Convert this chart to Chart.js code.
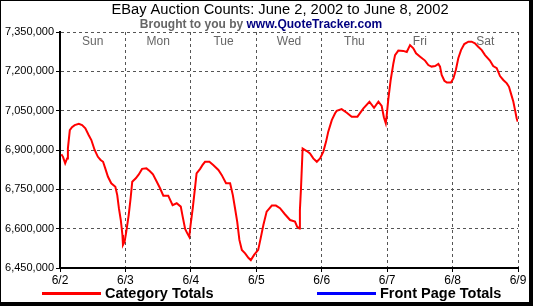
<!DOCTYPE html>
<html>
<head>
<meta charset="utf-8">
<script src="https://cdn.jsdelivr.net/npm/chart.js@4.4.1/dist/chart.umd.min.js"></script>
<style>
html, body { margin: 0; padding: 0; background: #fff; }
</style>
</head>
<body>
<canvas id="chart" width="533" height="306"></canvas>
<script>
// hours since 6/2 00:00
var hours = [
  0.5, 1.1, 1.9, 2.6, 2.9, 3.6, 4.4, 5.4, 6.9, 8.1, 9.3, 10.5, 11.5, 12.7, 13.9, 14.9,
  15.8, 16.6, 17.6, 18.8, 20.3, 21.0, 21.6, 22.3, 22.9, 23.1, 23.7, 24.3, 25.2, 25.9,
  26.5, 27.8, 28.9, 30.1, 31.7, 32.9, 34.1, 35.5, 36.7, 37.9, 39.7, 41.3, 42.8, 44.3,
  45.0, 45.9, 46.7, 47.4, 47.9, 48.7, 49.5, 50.1, 51.4, 52.3, 53.2, 54.8, 56.2, 58.1,
  59.3, 60.9, 62.4, 63.4, 64.2, 65.0, 65.8, 66.7, 67.9, 69.1, 70.0, 71.2, 72.7, 73.6,
  74.6, 75.8, 77.7, 79.2, 80.7, 82.5, 84.4, 86.2, 87.0, 87.8, 88.0, 88.4, 89.0, 90.5,
  91.7, 92.9, 94.2, 95.4, 96.6, 97.6, 98.4, 99.7, 100.9, 101.5, 103.3, 105.2, 107.0,
  109.1, 111.3, 113.5, 115.2, 116.8, 118.0, 118.8, 119.5, 119.8, 120.4, 121.3, 122.3,
  122.9, 124.1, 125.9, 127.2, 128.4, 129.6, 130.6, 132.1, 133.9, 135.1, 136.3, 137.6,
  138.8, 139.4, 140.0, 141.0, 141.9, 143.4, 144.3, 145.2, 146.1, 147.1, 148.3, 149.8,
  151.0, 152.2, 153.4, 154.7, 155.9, 157.7, 158.9, 160.2, 161.4, 162.6, 163.9, 164.7,
  165.4, 166.3, 166.9, 167.5, 167.9
];
var categoryTotals = [
  6884000, 6874000, 6849000, 6868000, 6906000, 6976000, 6987000, 6995000, 7000000, 6995000,
  6983000, 6957000, 6938000, 6900000, 6874000, 6862000, 6855000, 6830000, 6798000, 6773000,
  6760000, 6728000, 6678000, 6633000, 6576000, 6538000, 6550000, 6588000, 6652000, 6716000,
  6779000, 6792000, 6807000, 6828000, 6830000, 6820000, 6807000, 6779000, 6754000, 6726000,
  6726000, 6690000, 6697000, 6684000, 6646000, 6599000, 6582000, 6569000, 6614000, 6678000,
  6754000, 6811000, 6828000, 6843000, 6855000, 6855000, 6843000, 6824000, 6805000, 6773000,
  6773000, 6728000, 6678000, 6627000, 6557000, 6519000, 6506000, 6489000, 6480000, 6500000,
  6519000, 6563000, 6614000, 6665000, 6688000, 6688000, 6678000, 6655000, 6633000, 6627000,
  6607000, 6601000, 6671000, 6754000, 6906000, 6896000, 6887000, 6868000, 6855000, 6868000,
  6894000, 6932000, 6970000, 7014000, 7040000, 7049000, 7056000, 7042000, 7027000, 7027000,
  7059000, 7084000, 7061000, 7084000, 7068000, 7025000, 7002000, 7027000, 7091000, 7167000,
  7231000, 7262000, 7279000, 7278000, 7274000, 7300000, 7288000, 7269000, 7256000, 7241000,
  7224000, 7218000, 7220000, 7228000, 7218000, 7186000, 7164000, 7157000, 7157000, 7173000,
  7205000, 7250000, 7281000, 7304000, 7313000, 7313000, 7307000, 7294000, 7281000, 7262000,
  7241000, 7220000, 7212000, 7182000, 7167000, 7154000, 7141000, 7116000, 7084000, 7053000,
  7021000, 7008000
];
var frontPageTotals = [];
var dateLabels = ['6/2', '6/3', '6/4', '6/5', '6/6', '6/7', '6/8', '6/9'];
var dayNames = ['Sun', 'Mon', 'Tue', 'Wed', 'Thu', 'Fri', 'Sat'];
var yMin = 6450000, yMax = 7350000, yStep = 150000;

var titleText = 'EBay Auction Counts: June 2, 2002 to June 8, 2002';
var subText1 = 'Brought to you by ';
var subText2 = 'www.QuoteTracker.com';
var FONT = 'Arial, "Liberation Sans", sans-serif';

function toPoints(xs, ys) {
  return ys.map(function (v, i) { return { x: xs[i], y: v }; });
}

// title, day names, legend and frame
var decor = {
  id: 'decor',
  afterDraw: function (chart) {
    var ctx = chart.ctx;
    var xs = chart.scales.x;
    ctx.save();
    ctx.textBaseline = 'middle';

    ctx.fillStyle = '#000';
    ctx.font = '14.7px ' + FONT;
    ctx.textAlign = 'center';
    ctx.fillText(titleText, 280, 10);

    ctx.font = 'bold 12px ' + FONT;
    ctx.textAlign = 'left';
    var w1 = ctx.measureText(subText1).width;
    var w2 = ctx.measureText(subText2).width;
    var sx = 261 - (w1 + w2) / 2;
    ctx.fillStyle = '#666';
    ctx.fillText(subText1, sx, 25);
    ctx.fillStyle = '#000080';
    ctx.fillText(subText2, sx + w1, 25);

    ctx.font = '12px ' + FONT;
    ctx.fillStyle = '#666';
    ctx.textAlign = 'center';
    dayNames.forEach(function (d, i) {
      ctx.fillText(d, xs.getPixelForValue(i * 24 + 12), 42);
    });

    // legend
    var legendX = [42, 317];
    ctx.font = 'bold 14.5px ' + FONT;
    ctx.textAlign = 'left';
    chart.data.datasets.forEach(function (ds, i) {
      var x0 = legendX[i];
      ctx.strokeStyle = ds.borderColor;
      ctx.lineWidth = 3;
      ctx.beginPath();
      ctx.moveTo(x0, 293.5);
      ctx.lineTo(x0 + 59, 293.5);
      ctx.stroke();
      ctx.fillStyle = '#000';
      ctx.fillText(ds.label, x0 + 63, 294);
    });

    // frame
    ctx.fillStyle = '#000';
    ctx.fillRect(0, 0, 533, 1);
    ctx.fillRect(0, 0, 1, 306);
    ctx.fillRect(529, 0, 4, 306);
    ctx.fillRect(0, 302, 533, 4);
    ctx.restore();
  }
};

var ctx = document.getElementById('chart').getContext('2d');
var chart = new Chart(ctx, {
  type: 'line',
  data: {
    datasets: [
      {
        label: 'Category Totals',
        borderColor: '#FF0000',
        backgroundColor: '#FF0000',
        borderWidth: 2,
        pointRadius: 0,
        tension: 0,
        fill: false,
        data: toPoints(hours, categoryTotals)
      }, {
        label: 'Front Page Totals',
        borderColor: '#0000FF',
        backgroundColor: '#0000FF',
        borderWidth: 2,
        pointRadius: 0,
        fill: false,
        data: frontPageTotals
      }
    ]
  },
  options: {
    responsive: false,
    animation: false,
    layout: { padding: { left: 0, right: 15, top: 32, bottom: 18 } },
    plugins: {
      legend: { display: false },
      title: { display: false },
      tooltip: { enabled: false }
    },
    scales: {
      x: {
        type: 'linear',
        min: 0,
        max: 168,
        ticks: {
          stepSize: 24,
          autoSkip: false,
          maxRotation: 0,
          padding: 1,
          color: '#000',
          font: { family: FONT, size: 12 },
          callback: function (v) { return dateLabels[Math.round(v / 24)]; }
        },
        grid: { color: '#555', lineWidth: 1, tickLength: 4, tickColor: '#000', tickBorderDash: [] },
        border: { color: '#000', width: 2, dash: [3, 3] },
        afterFit: function (s) { s.height = 20; }
      },
      y: {
        min: yMin,
        max: yMax,
        ticks: {
          stepSize: yStep,
          padding: 2,
          color: '#000',
          font: { family: FONT, size: 11 },
          callback: function (v) { return v.toLocaleString('en-US'); }
        },
        grid: { color: '#555', lineWidth: 1, tickLength: 4, tickColor: '#000', tickBorderDash: [] },
        border: { color: '#000', width: 2, dash: [3, 3] },
        afterFit: function (s) { s.width = 60; }
      }
    }
  },
  plugins: [decor]
});
</script>
</body>
</html>
